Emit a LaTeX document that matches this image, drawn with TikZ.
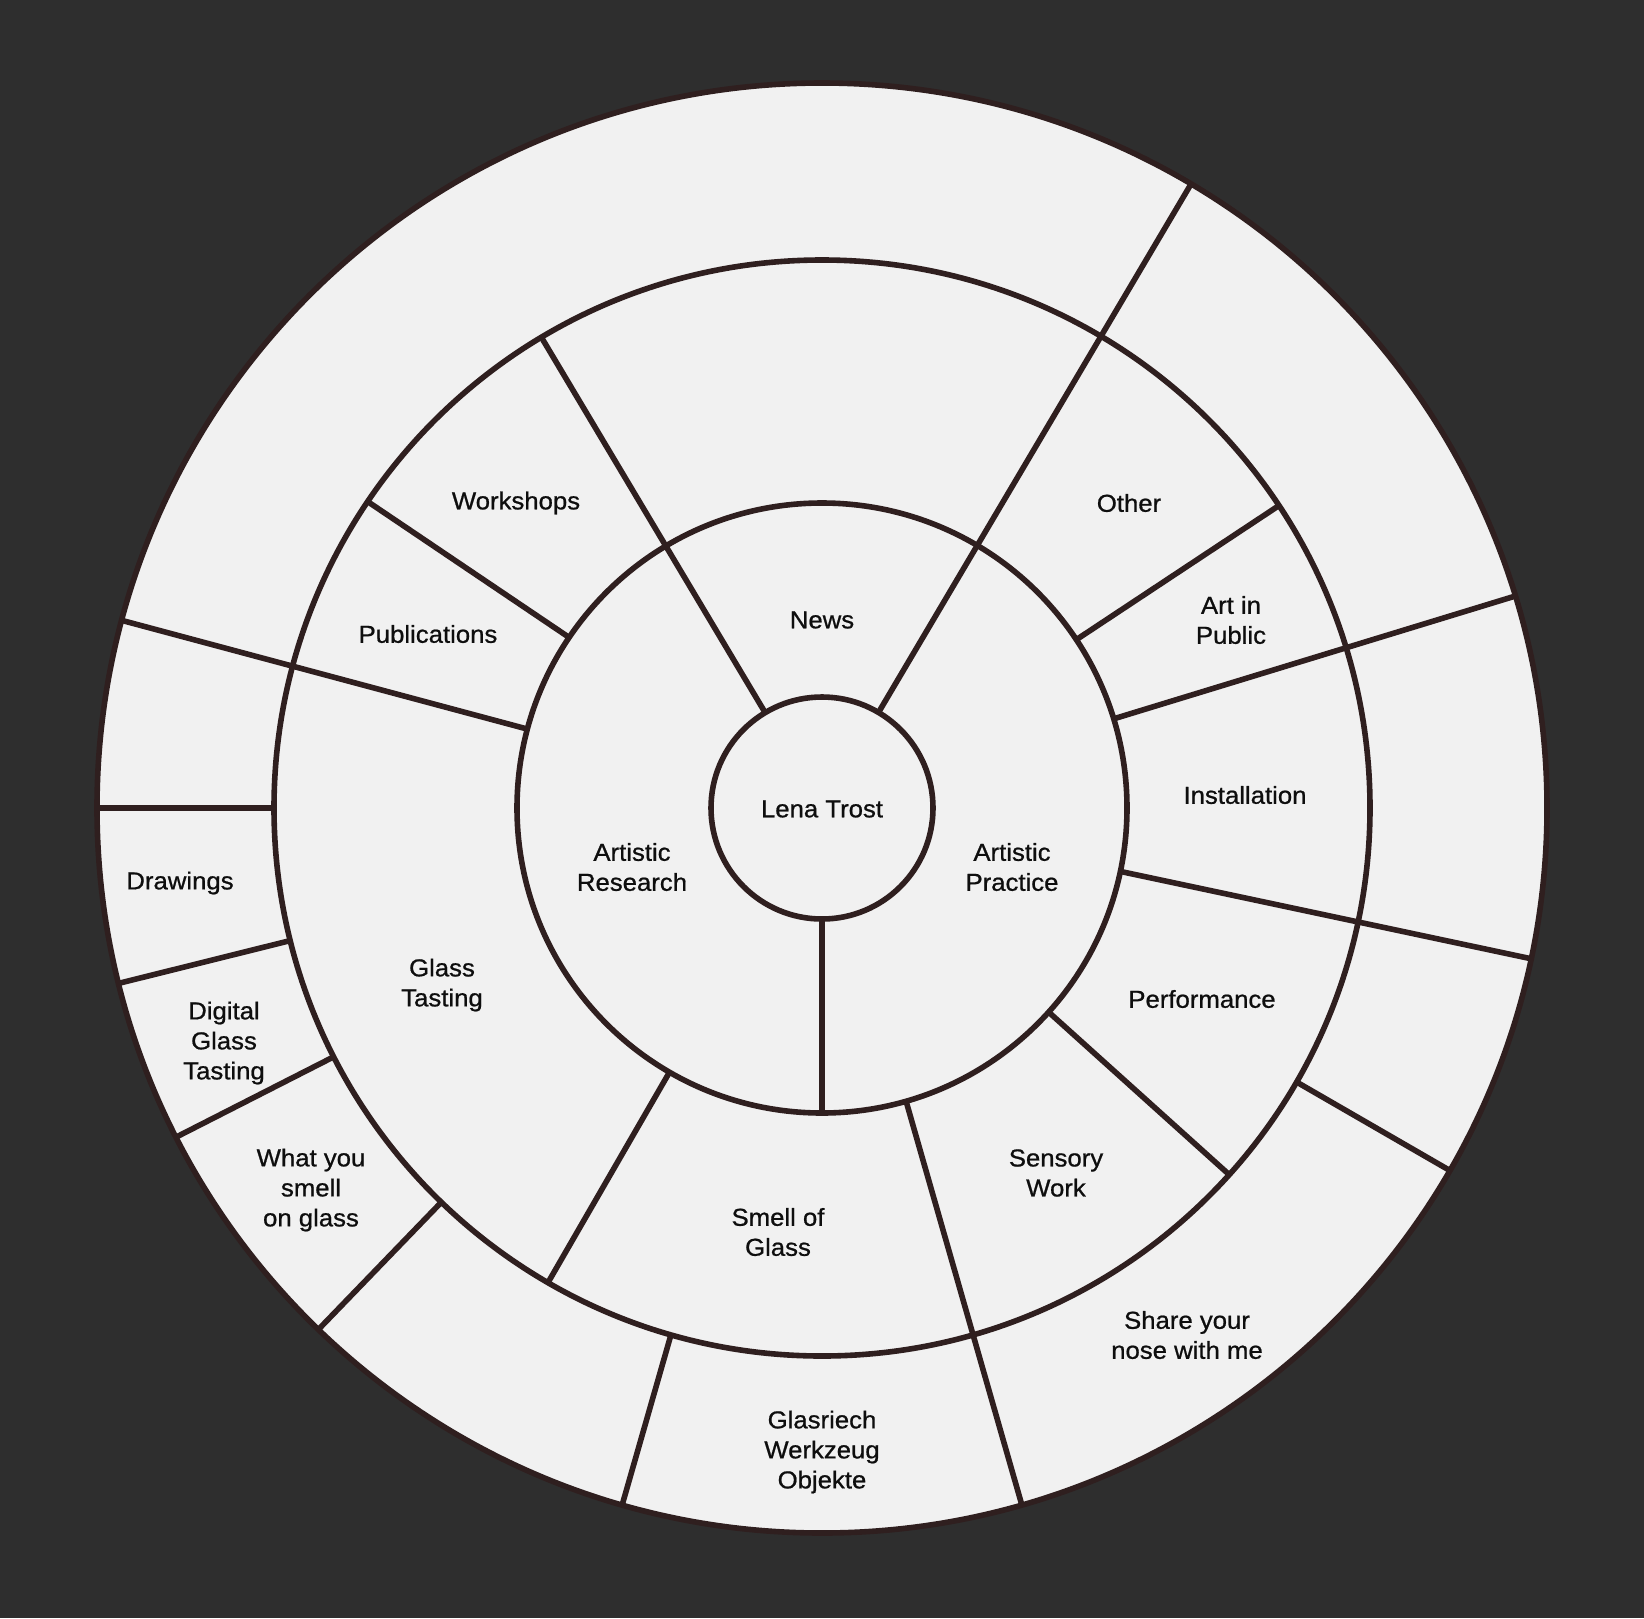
\documentclass[tikz,border=0pt]{standalone}
\usepackage{fontspec}
\setmainfont{Liberation Sans}
\newfontfamily\lblfont{Liberation Sans}[FakeBold=0.8,FakeStretch=1.05]
\definecolor{bgc}{HTML}{2E2E2E}
\definecolor{fillc}{HTML}{F1F1F1}
\definecolor{linec}{HTML}{2F1F1F}
\definecolor{txtc}{HTML}{0E0E0E}
\begin{document}
\begin{tikzpicture}[x=1pt,y=1pt,
  ring/.style={draw=linec,line width=5.6pt},
  sep/.style={draw=linec,line width=5.6pt},
  lbl/.style={align=center,text=txtc,font=\lblfont\fontsize{24.5}{30}\selectfont,inner sep=0pt}]
\fill[bgc] (0,0) rectangle (1644,-1618);
\useasboundingbox (0,0) rectangle (1644,-1618);
\begin{scope}[shift={(822,-808)}]
\def\ra{111}\def\rb{305}\def\rc{548}\def\rd{725}
\fill[fillc] (0,0) circle (\rd);
% separators
\foreach \a in {59.4}{\draw[sep] (\a:\ra) -- (\a:\rd);}
\foreach \a in {120.8}{\draw[sep] (\a:\ra) -- (\a:\rc);}
\foreach \a in {270}{\draw[sep] (\a:\ra) -- (\a:\rb);}
\foreach \a in {146,240,318,33.5}{\draw[sep] (\a:\rb) -- (\a:\rc);}
\foreach \a in {165,286,348,17}{\draw[sep] (\a:\rb) -- (\a:\rd);}
\foreach \a in {180,194,207,226,254,330}{\draw[sep] (\a:\rc) -- (\a:\rd);}
\draw[ring] (0,0) circle (\ra);
\draw[ring] (0,0) circle (\rb);
\draw[ring] (0,0) circle (\rc);
\draw[ring] (0,0) circle (\rd);
\end{scope}
% labels (full-pixel coordinates)
\node[lbl] (lena) at (822,-809) {Lena Trost};
\node[lbl] (news) at (822,-620) {News};
\node[lbl] (ares) at (632,-867) {Artistic\\Research};
\node[lbl] (aprac) at (1012,-867) {Artistic\\Practice};
\node[lbl] (work) at (516,-503) {Workshops};
\node[lbl] (pub) at (428,-634) {Publications};
\node[lbl] (other) at (1129,-503) {Other};
\node[lbl] (aip) at (1231,-620) {Art in\\Public};
\node[lbl] (inst) at (1245,-795) {Installation};
\node[lbl] (perf) at (1202,-999) {Performance};
\node[lbl] (sens) at (1056,-1173) {Sensory\\Work};
\node[lbl] (smell) at (778,-1232) {Smell of\\Glass};
\node[lbl] (gt) at (442,-985) {Glass\\Tasting};
\node[lbl] (draw) at (180,-883) {Drawings};
\node[lbl] (dgt) at (224,-1043) {Digital\\Glass\\Tasting};
\node[lbl] (wys) at (311,-1190) {What you\\smell\\on glass};
\node[lbl] (glas) at (822,-1452) {Glasriech\\Werkzeug\\Objekte};
\node[lbl] (share) at (1187,-1335) {Share your\\nose with me};
\end{tikzpicture}
\end{document}
